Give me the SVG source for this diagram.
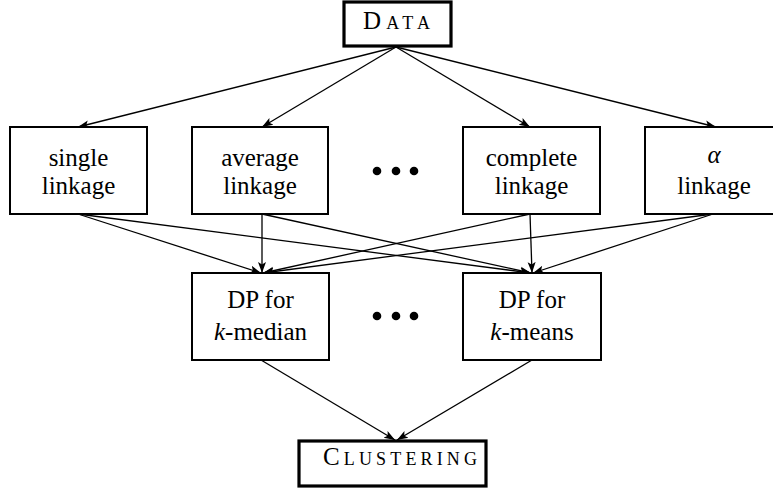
<svg xmlns="http://www.w3.org/2000/svg" width="773" height="492" viewBox="0 0 773 492">
<style>
.box{fill:#fff;stroke:#000;stroke-width:2}
.bold{fill:#fff;stroke:#000;stroke-width:3.2}
.e{stroke:#000;stroke-width:1.3;fill:none;marker-end:url(#ah)}
</style>
<defs>
<marker id="ah" markerUnits="userSpaceOnUse" markerWidth="12" markerHeight="10" refX="11" refY="4.5" orient="auto" viewBox="0 0 12 9">
<path d="M0,0.5 L11,4.5 L0,8.5 L2.5,4.5 z" fill="#000"/>
</marker>
</defs>
<g id="connectors">
<line class="e" x1="396" y1="47" x2="78" y2="127"/>
<line class="e" x1="396" y1="47" x2="262" y2="127"/>
<line class="e" x1="396" y1="47" x2="530" y2="127"/>
<line class="e" x1="396" y1="47" x2="716" y2="127"/>
<line class="e" x1="78" y1="214" x2="261" y2="273"/>
<line class="e" x1="78" y1="214" x2="531" y2="273"/>
<line class="e" x1="262" y1="214" x2="262" y2="273"/>
<line class="e" x1="262" y1="214" x2="531" y2="273"/>
<line class="e" x1="530" y1="214" x2="532" y2="273"/>
<line class="e" x1="530" y1="214" x2="263" y2="273"/>
<line class="e" x1="713" y1="214" x2="263" y2="273"/>
<line class="e" x1="713" y1="214" x2="533" y2="273"/>
<line class="e" x1="261" y1="360" x2="395" y2="440"/>
<line class="e" x1="532" y1="360" x2="397" y2="440"/>
</g>
<g font-family="'Liberation Serif', 'DejaVu Serif', serif" fill="#000">
<g id="data">
<rect class="bold" x="344" y="2" width="107" height="44"/>
<text x="363" y="29" font-size="25" font-variant="small-caps" textLength="67" lengthAdjust="spacing">Data</text>
</g>
<g id="single">
<rect class="box" x="10" y="127" width="137" height="87"/>
<text font-size="25" text-anchor="middle"><tspan x="78.5" y="166">single</tspan><tspan x="78.5" y="194">linkage</tspan></text>
</g>
<g id="average">
<rect class="box" x="192" y="127" width="136" height="87"/>
<text font-size="25" text-anchor="middle"><tspan x="260" y="165.5">average</tspan><tspan x="260" y="193.5">linkage</tspan></text>
</g>
<g id="dots1">
<circle cx="377" cy="171" r="4.3"/>
<circle cx="396" cy="171" r="4.3"/>
<circle cx="414" cy="171" r="4.3"/>
</g>
<g id="complete">
<rect class="box" x="463" y="127" width="137" height="87"/>
<text font-size="25" text-anchor="middle"><tspan x="531.5" y="165.5">complete</tspan><tspan x="531.5" y="193.5">linkage</tspan></text>
</g>
<g id="alpha">
<rect class="box" x="645" y="127" width="137" height="87"/>
<text font-size="25" text-anchor="middle"><tspan x="714" y="163" font-style="italic">α</tspan><tspan x="714" y="194">linkage</tspan></text>
</g>
<g id="dpmedian">
<rect class="box" x="192" y="273" width="137" height="87"/>
<text font-size="25" text-anchor="middle"><tspan x="260.5" y="308">DP for</tspan><tspan x="260.5" y="340"><tspan font-style="italic">k</tspan>-median</tspan></text>
</g>
<g id="dots2">
<circle cx="377" cy="316" r="4.3"/>
<circle cx="396" cy="316" r="4.3"/>
<circle cx="414" cy="316" r="4.3"/>
</g>
<g id="dpmeans">
<rect class="box" x="463" y="273" width="138" height="87"/>
<text font-size="25" text-anchor="middle"><tspan x="532" y="308">DP for</tspan><tspan x="532" y="340"><tspan font-style="italic">k</tspan>-means</tspan></text>
</g>
<g id="clustering">
<rect class="bold" x="299" y="441" width="187" height="45"/>
<text x="323" y="465" font-size="25" font-variant="small-caps" textLength="154" lengthAdjust="spacing">Clustering</text>
</g>
</g>
</svg>
